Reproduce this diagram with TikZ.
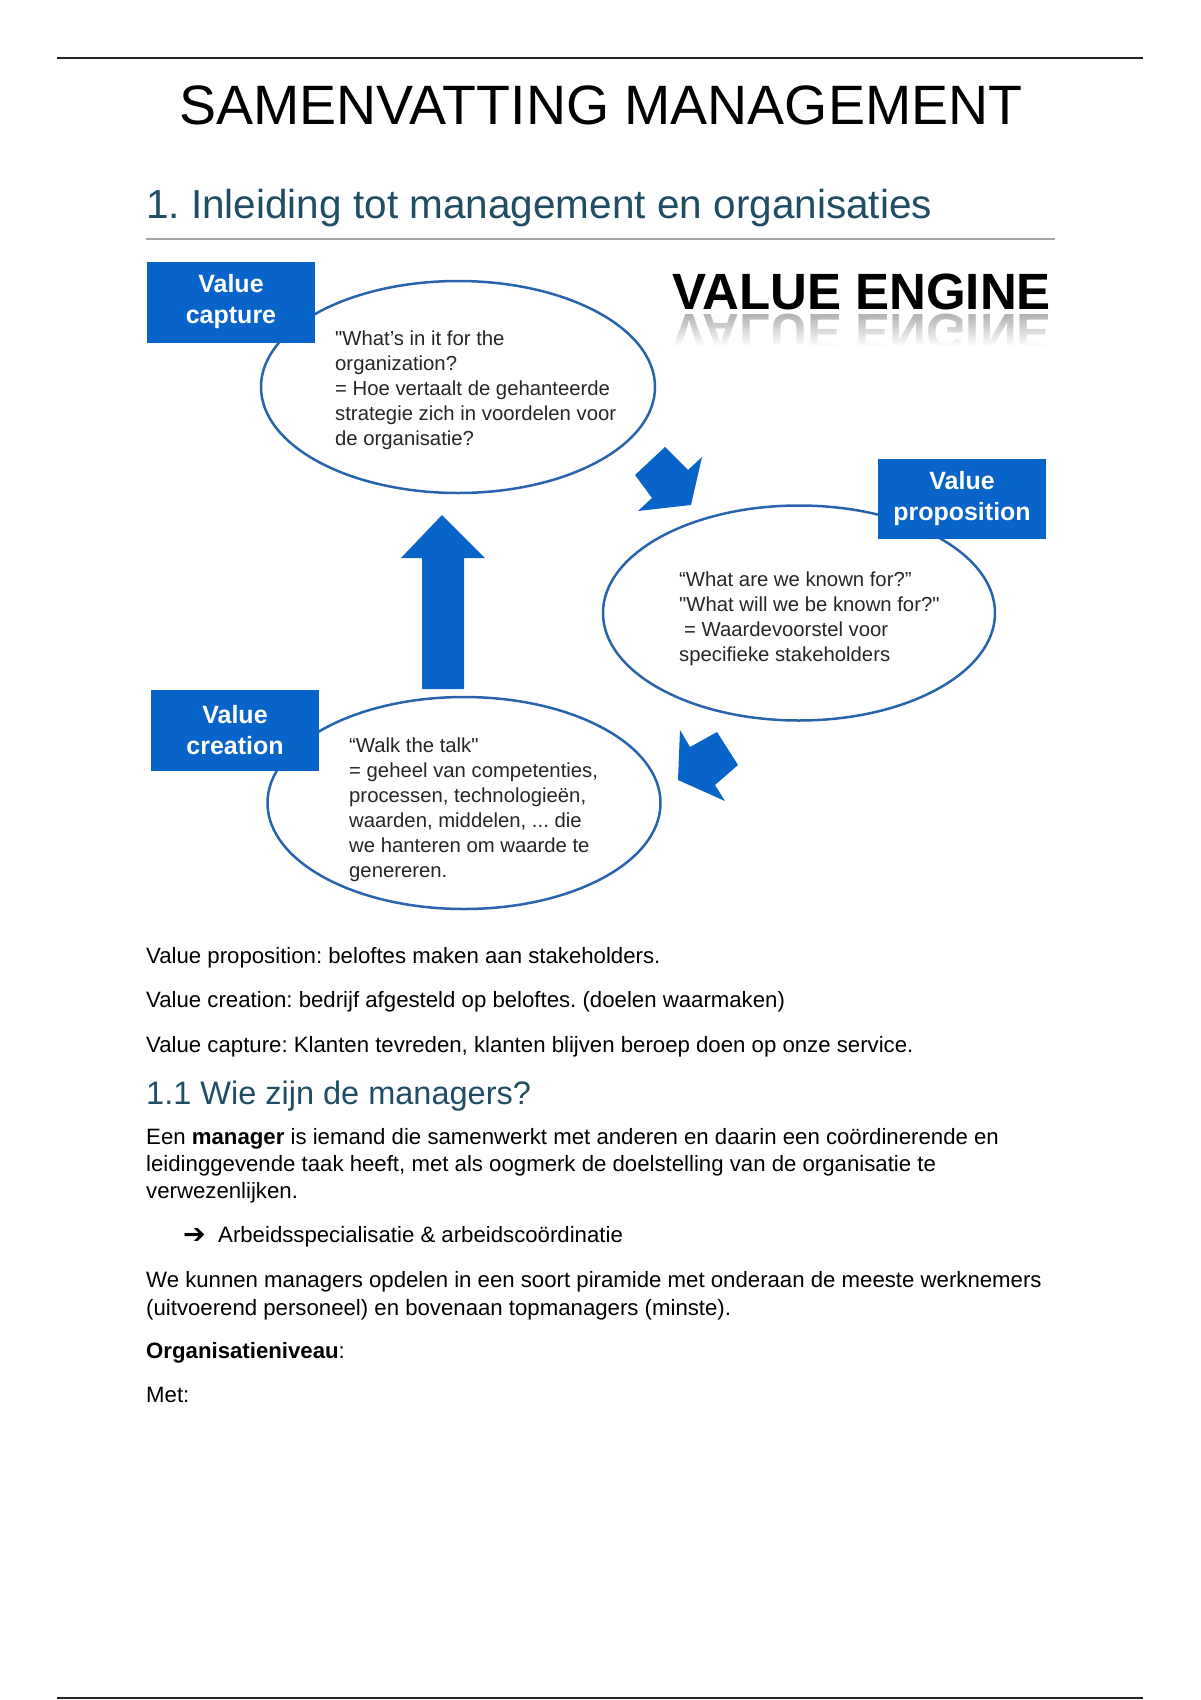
\documentclass[tikz,border=0pt]{standalone}
\usepackage{fontspec}
\setmainfont{Liberation Sans}
\newfontfamily\symfont{DejaVu Sans}
\usetikzlibrary{shapes.geometric,fadings}
\frenchspacing

\definecolor{engblue}{RGB}{8,100,200}
\definecolor{ringblue}{RGB}{40,100,172}
\definecolor{headteal}{RGB}{31,77,99}

\begin{document}
\begin{tikzpicture}[x=1pt, y=-1pt,
  lbl/.style={fill=engblue, text=white, font=\fontsize{25}{31}\selectfont\bfseries,
              align=center, minimum width=168pt, minimum height=81pt, inner sep=0pt},
  ring/.style={ellipse, draw=ringblue, line width=2.5pt, fill=white, inner sep=0pt},
  ringtxt/.style={anchor=west, align=left, inner sep=0pt, text=black!85,
                  font=\fontsize{20.3}{25}\selectfont},
  body/.style={anchor=base west, inner sep=0pt, font=\fontsize{22.2}{27}\selectfont},
  blockarr/.style={fill=engblue}
]
\useasboundingbox (0,0) rectangle (1200,1700);

% Page frame
\coordinate (tl) at (57,58);
\coordinate (tr) at (1143,58);
\coordinate (bl) at (57,1698);
\coordinate (br) at (1143,1698);
\draw[line width=2.5pt, black!85] (tl) -- (tr);
\draw[line width=2.5pt, black!85] (bl) -- (br);

% Titles
\node[font=\fontsize{55.5}{62}\selectfont] (title) at (601,105) {SAMENVATTING MANAGEMENT};
\node[anchor=base west, inner sep=0pt, text=headteal, font=\fontsize{40.5}{48}\selectfont]
  (sec) at (146,218) {1. Inleiding tot management en organisaties};
\coordinate (secl) at (146,239);
\coordinate (secr) at (1055,239);
\draw[line width=1.5pt, black!35] (secl) -- (secr);

% Value engine logo with reflection
\node[anchor=base west, inner sep=0pt, font=\fontsize{51}{60}\selectfont\bfseries]
  (logo) at (672,309) {VALUE ENGINE};
\node[anchor=base west, inner sep=0pt, text=black!35, font=\fontsize{51}{60}\selectfont\bfseries]
  (logorefl) at (672,314) {\scalebox{1}[-1]{VALUE ENGINE}};
\fill[white, path fading=north] (665,309) rectangle (1060,346);
\fill[white] (665,346) rectangle (1060,356);

% Rings
\node[ring, minimum width=394pt, minimum height=212pt] (capt) at (458,387) {};
\node[ring, minimum width=392pt, minimum height=215pt] (prop) at (799,613) {};
\node[ring, minimum width=393pt, minimum height=212pt] (crea) at (464,803) {};

% Labels
\node[lbl] (captlbl) at (231,302) {Value\\capture};
\node[lbl, minimum height=80pt] (proplbl) at (962,499) {Value\\proposition};
\node[lbl] (crealbl) at (235,730) {Value\\creation};

% Ring texts
\node[ringtxt] (capttxt) at (335,390) {\textquotedbl What's in it for the\\organization?\\= Hoe vertaalt de gehanteerde\\strategie zich in voordelen voor\\de organisatie?};
\node[ringtxt] (proptxt) at (679,619) {``What are we known for?''\\\textquotedbl What will we be known for?\textquotedbl\\\hspace{5pt}= Waardevoorstel voor\\specifieke stakeholders};
\node[ringtxt] (creatxt) at (349,810) {``Walk the talk\textquotedbl\\= geheel van competenties,\\processen, technologieën,\\waarden, middelen, ... die\\we hanteren om waarde te\\genereren.};

% Block arrows
\fill[blockarr] (665,447) -- (688,470) -- (702,457) -- (691,505) -- (638,511)
  -- (652,498) -- (635,475) -- cycle;
\fill[blockarr] (680,730) -- (690,747) -- (717,732) -- (738,765) -- (715,785)
  -- (725,801) -- (678,780) -- cycle;
\fill[blockarr] (442,515) -- (485,558) -- (464,558) -- (464,689) -- (422,689)
  -- (422,558) -- (401,558) -- cycle;

% Body text
\node[body] (l1) at (146,963) {Value proposition: beloftes maken aan stakeholders.};
\node[body] (l2) at (146,1007) {Value creation: bedrijf afgesteld op beloftes. (doelen waarmaken)};
\node[body] (l3) at (146,1052) {Value capture: Klanten tevreden, klanten blijven beroep doen op onze service.};
\node[anchor=base west, inner sep=0pt, text=headteal, font=\fontsize{32.5}{38}\selectfont]
  (sub) at (146,1104) {1.1 Wie zijn de managers?};
\node[body] (p1a) at (146,1144) {Een \textbf{manager} is iemand die samenwerkt met anderen en daarin een coördinerende en};
\node[body] (p1b) at (146,1171) {leidinggevende taak heeft, met als oogmerk de doelstelling van de organisatie te};
\node[body] (p1c) at (146,1198) {verwezenlijken.};
\node[body] (bul) at (183,1243) {{\symfont\bfseries\fontsize{27}{27}\selectfont ➔}};
\node[body] (item) at (218,1242) {Arbeidsspecialisatie \& arbeidscoördinatie};
\node[body] (p2a) at (146,1287) {We kunnen managers opdelen in een soort piramide met onderaan de meeste werknemers};
\node[body] (p2b) at (146,1315) {(uitvoerend personeel) en bovenaan topmanagers (minste).};
\node[body] (org) at (146,1358) {\textbf{Organisatieniveau}:};
\node[body] (met) at (146,1402) {Met:};

\end{tikzpicture}
\end{document}
